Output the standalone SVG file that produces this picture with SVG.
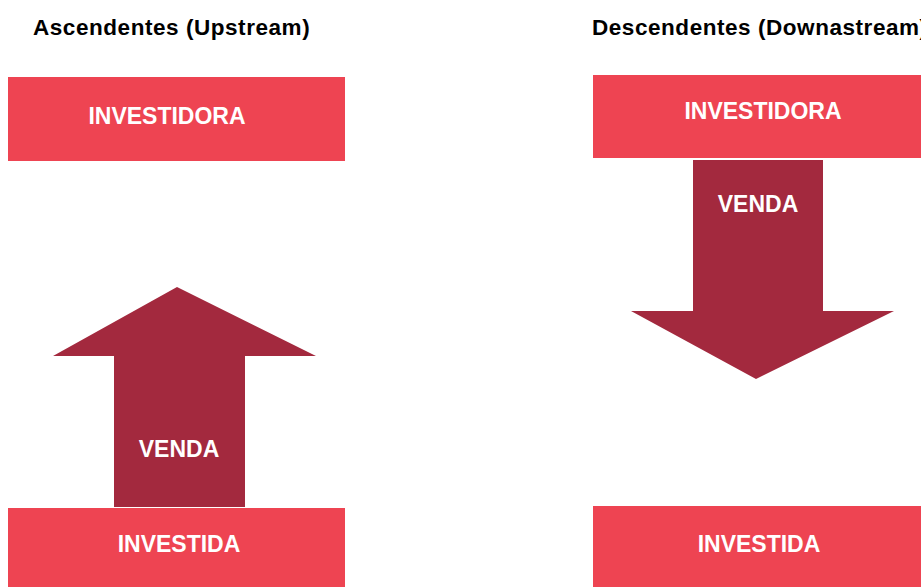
<svg xmlns="http://www.w3.org/2000/svg" width="921" height="587" viewBox="0 0 921 587">
<style>
.box{fill:#EE4452}
.arrow{fill:#A3293E}
.lbl{font-family:"Liberation Sans",Arial,sans-serif;font-weight:bold;font-size:23px;fill:#ffffff;text-anchor:middle}
.title{font-family:"Liberation Sans",Arial,sans-serif;font-weight:bold;font-size:22.5px;letter-spacing:0.55px;fill:#000000}
</style>
<rect width="921" height="587" fill="#ffffff"/>
<text class="title" x="33" y="35">Ascendentes (Upstream)</text>
<text class="title" x="592" y="35">Descendentes (Downastream)</text>
<g id="up-investidora">
<rect class="box" x="8" y="77" width="337" height="84"/>
<text class="lbl" x="167" y="124">INVESTIDORA</text>
</g>
<g id="down-investidora">
<rect class="box" x="593" y="75" width="340" height="83"/>
<text class="lbl" x="763" y="119">INVESTIDORA</text>
</g>
<g id="connectors">
<g id="up-venda">
<polygon class="arrow" points="114,507 114,356 53,356 177,287 316,356 245,356 245,507"/>
<text class="lbl" x="179" y="457">VENDA</text>
</g>
<g id="down-venda">
<polygon class="arrow" points="693,160 823,160 823,311 894,311 756,379 631,311 693,311"/>
<text class="lbl" x="758" y="212">VENDA</text>
</g>
</g>
<g id="up-investida">
<rect class="box" x="8" y="508" width="337" height="79"/>
<text class="lbl" x="179" y="552">INVESTIDA</text>
</g>
<g id="down-investida">
<rect class="box" x="593" y="506" width="340" height="81"/>
<text class="lbl" x="759" y="552">INVESTIDA</text>
</g>
</svg>
